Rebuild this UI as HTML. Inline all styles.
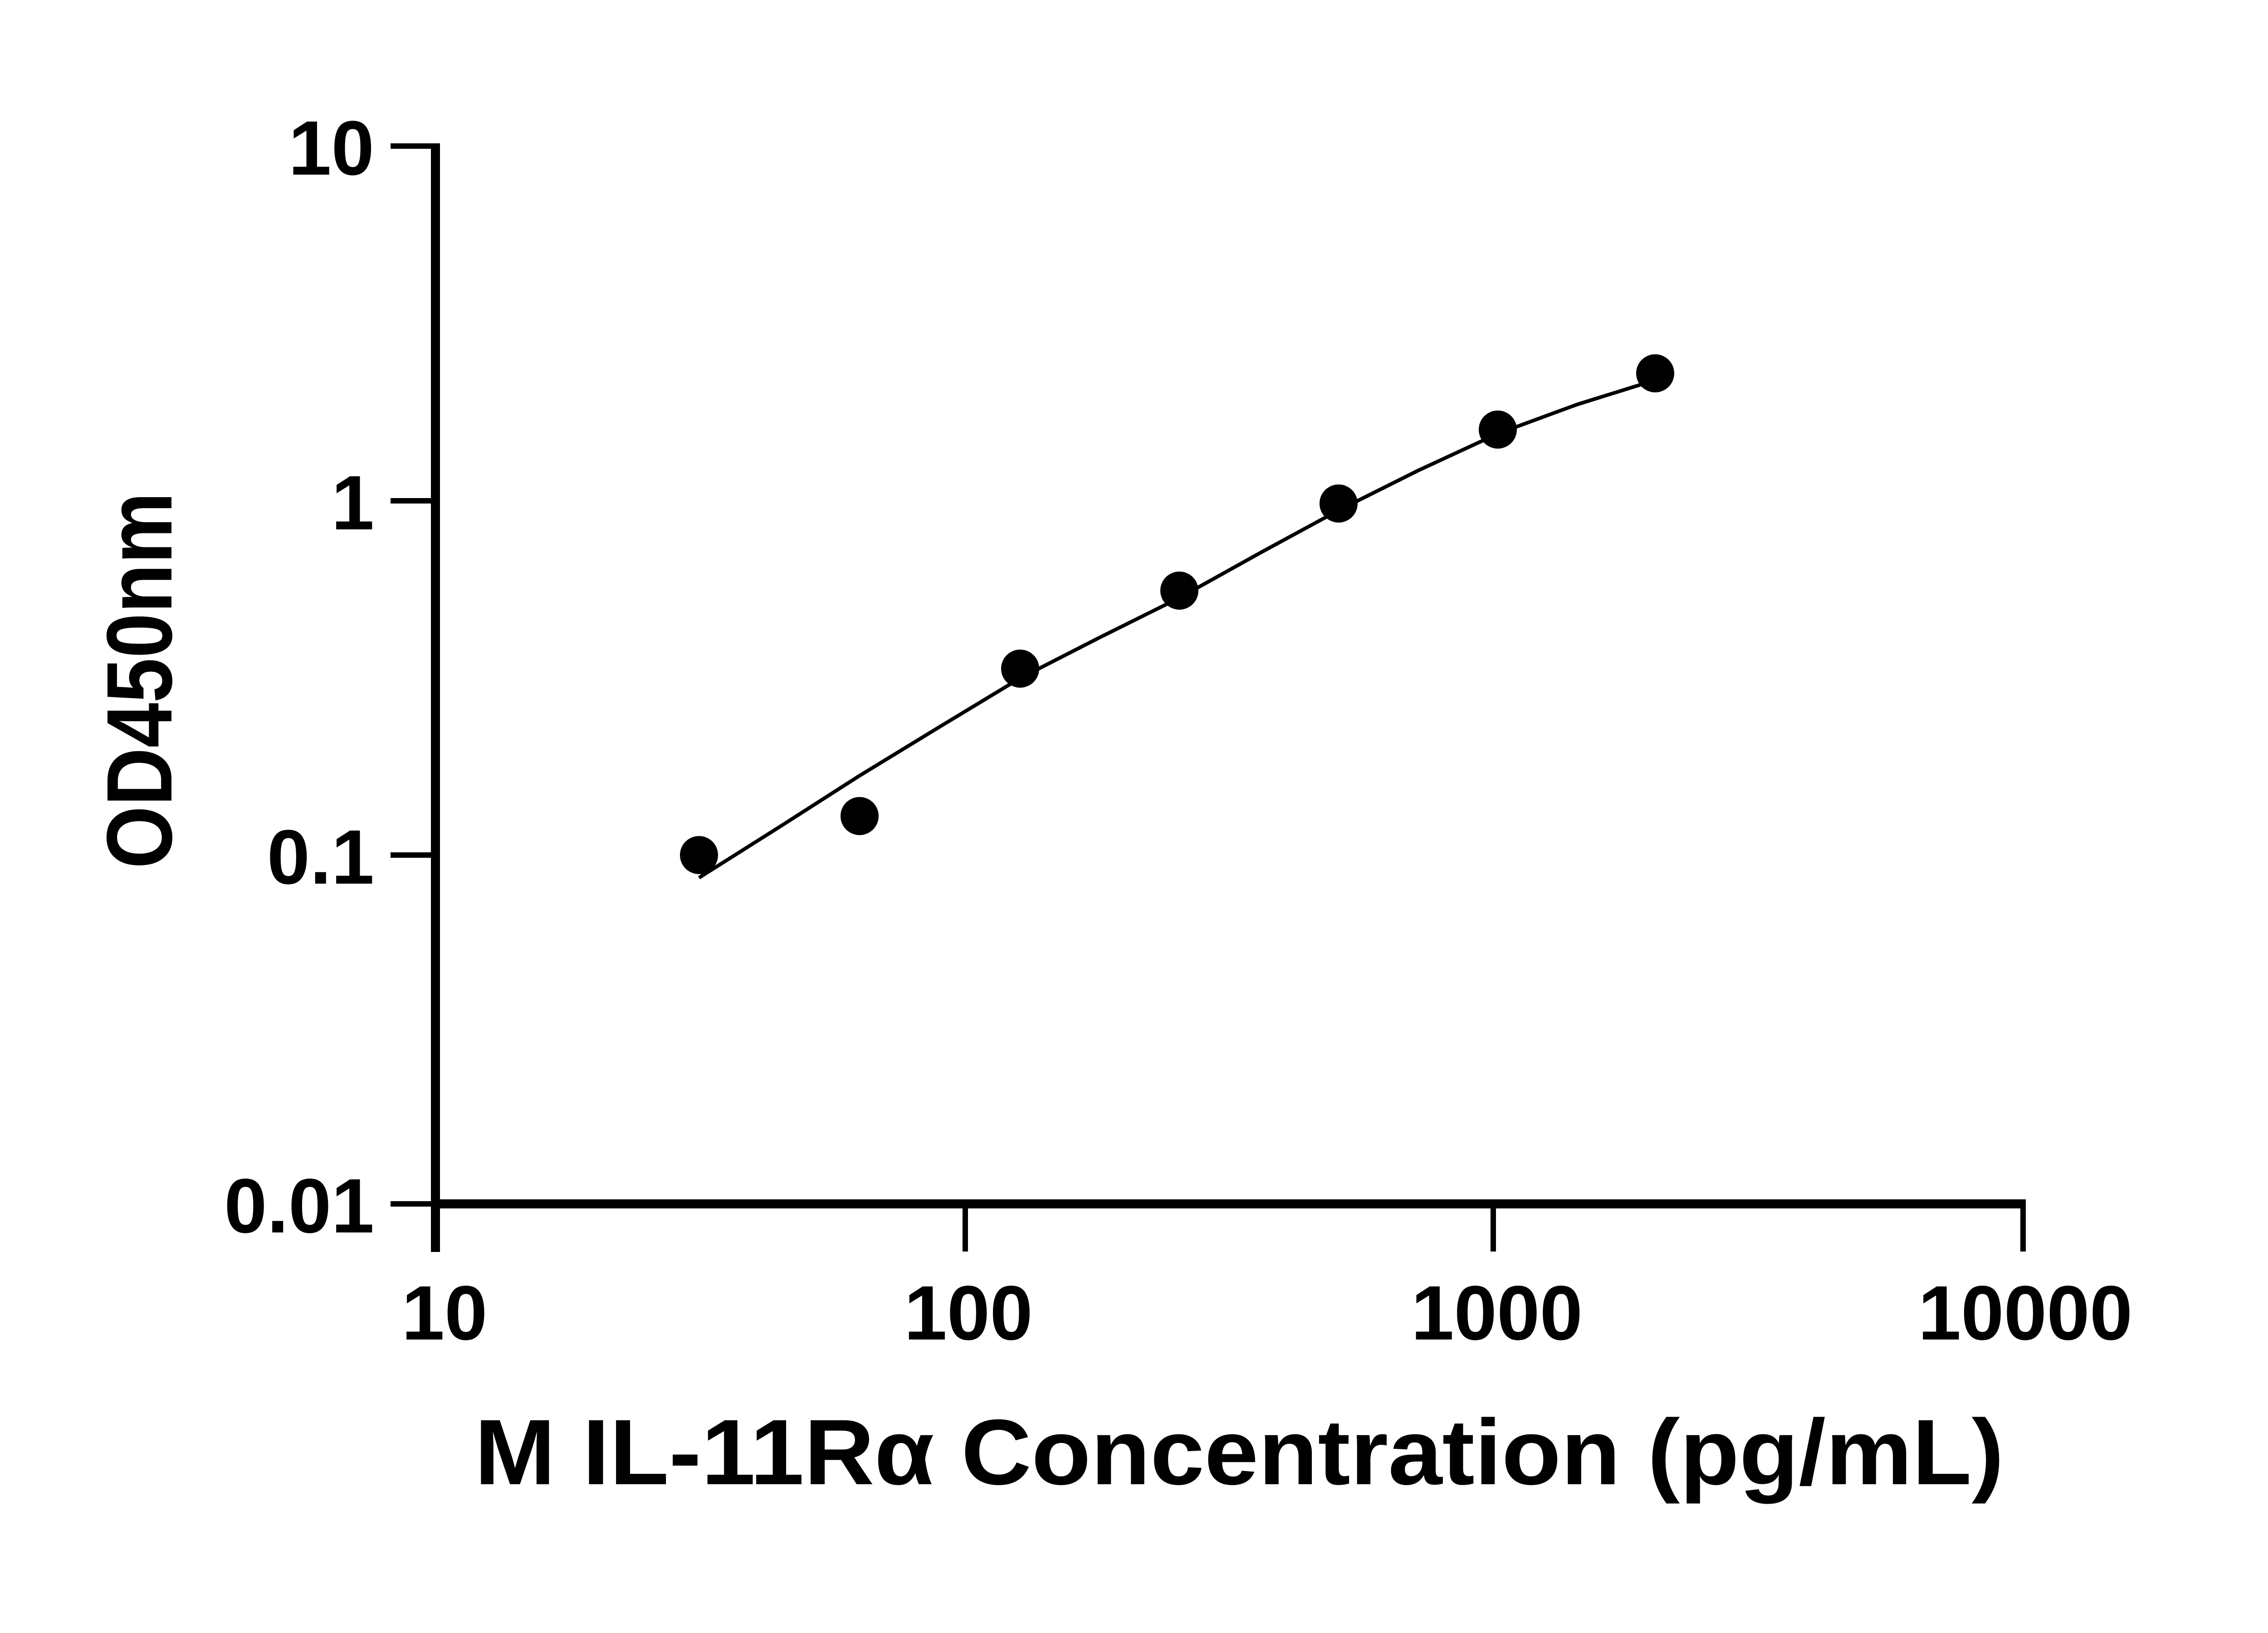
<!DOCTYPE html>
<html><head><style>html,body{margin:0;padding:0;background:#fff}svg{display:block}</style></head>
<body>
<svg width="5142" height="3600" viewBox="0 0 5142 3600" xmlns="http://www.w3.org/2000/svg" font-family="Liberation Sans, Arial, sans-serif" font-weight="bold">
<rect width="5142" height="3600" fill="#fff"/>
<g stroke="#000" fill="none">
<line x1="960" y1="316" x2="960" y2="2760" stroke-width="20"/>
<line x1="950" y1="2654" x2="4466" y2="2654" stroke-width="20"/>
<g stroke-width="12">
<line x1="861" y1="322" x2="960" y2="322"/>
<line x1="861" y1="1104" x2="960" y2="1104"/>
<line x1="861" y1="1885" x2="960" y2="1885"/>
<line x1="861" y1="2654" x2="960" y2="2654"/>
<line x1="2128" y1="2654" x2="2128" y2="2759"/>
<line x1="3292" y1="2654" x2="3292" y2="2759"/>
<line x1="4460" y1="2654" x2="4460" y2="2759"/>
</g>
<polyline stroke-width="8" stroke-linejoin="round" points="1541,1935 1720,1822 1895,1710 2072,1602 2249,1495 2425,1405 2600,1318 2776,1220 2951,1125 3127,1037 3302,956 3476,892 3649,838"/>
</g>
<g fill="#000">
<circle cx="1541" cy="1885" r="42"/>
<circle cx="1895" cy="1799" r="42"/>
<circle cx="2249" cy="1474" r="42"/>
<circle cx="2600" cy="1302" r="42"/>
<circle cx="2951" cy="1110" r="42"/>
<circle cx="3302" cy="947" r="42"/>
<circle cx="3649" cy="823" r="42"/>
</g>
<g font-size="170" text-anchor="end" fill="#000">
<text x="825" y="385">10</text>
<text x="825" y="1167">1</text>
<text x="825" y="1948">0.1</text>
<text x="825" y="2717">0.01</text>
</g>
<g font-size="170" text-anchor="middle" fill="#000">
<text x="980" y="2953">10</text>
<text x="2135" y="2953">100</text>
<text x="3300" y="2953">1000</text>
<text x="4465" y="2953">10000</text>
</g>
<text x="2732" y="3272" font-size="205" text-anchor="middle" textLength="3372" lengthAdjust="spacingAndGlyphs">M IL-11Rα Concentration (pg/mL)</text>
<text transform="translate(378,1500) rotate(-90)" font-size="205" text-anchor="middle" textLength="830" lengthAdjust="spacingAndGlyphs">OD450nm</text>
</svg>
</body></html>
